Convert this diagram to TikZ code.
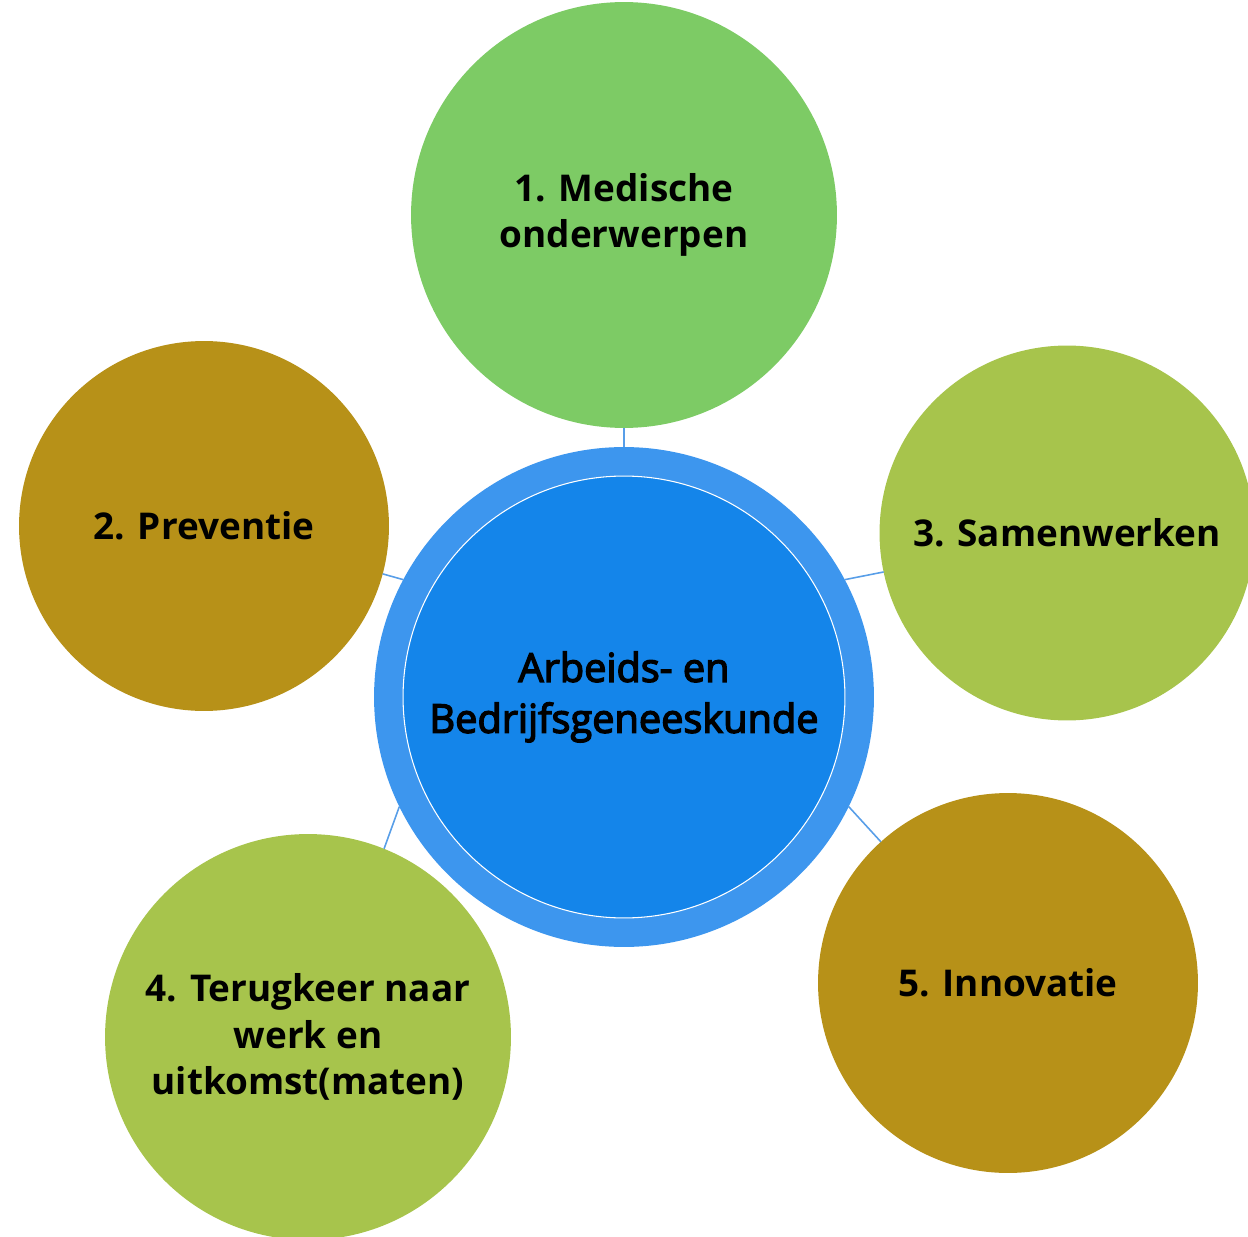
\documentclass[tikz,border=0pt]{standalone}
\usepackage{fontspec}
\setmainfont{Open Sans}
\newfontfamily\corefont{Open Sans}[FakeBold=3.5]
\usepackage{tikz}
\definecolor{leafgreen}{RGB}{125,203,101}
\definecolor{limegreen}{RGB}{167,196,76}
\definecolor{ochre}{RGB}{183,145,24}
\definecolor{ringblue}{RGB}{61,150,238}
\definecolor{coreblue}{RGB}{20,133,234}
\definecolor{linkblue}{RGB}{88,158,232}
\tikzset{
  bubble/.style={circle, inner sep=0pt, outer sep=0pt, align=center,
    font=\bfseries\fontsize{21}{26.5}\selectfont},
  link/.style={draw=linkblue, line width=0.9pt}
}

\begin{document}
\begin{tikzpicture}[x=0.02cm, y=-0.02cm]
\useasboundingbox (0,0) rectangle (1248,1237);
% centre
\node[circle, fill=ringblue, minimum size=10cm, outer sep=0pt] (ring) at (624,697) {};
\node[circle, fill=coreblue, draw=white, line width=0.6pt, minimum size=8.84cm,
  align=center, font=\corefont\fontsize{22.6}{29}\selectfont] (core) at (624,697)
  {Arbeids- en\\ Bedrijfsgeneeskunde};
% outer circles
\node[bubble, fill=leafgreen, minimum size=8.52cm] (medisch) at (624,215) {1. Medische\\ onderwerpen};
\node[bubble, fill=ochre, minimum size=7.4cm] (preventie) at (204,526) {2. Preventie};
\node[bubble, fill=limegreen, minimum size=7.5cm] (samen) at (1067,533) {3. Samenwerken};
\node[bubble, fill=limegreen, minimum size=8.12cm] (terugkeer) at (308,1037) {4. Terugkeer naar\\ werk en\\ uitkomst(maten)};
\node[bubble, fill=ochre, minimum size=7.6cm] (innovatie) at (1008,983) {5. Innovatie};
% connectors
\draw[link] (ring.90) -- (medisch.-90);
\draw[link] (ring.152) -- (preventie.-15);
\draw[link] (ring.28) -- (samen.192);
\draw[link] (ring.206) -- (terugkeer.68);
\draw[link] (ring.-26) -- (innovatie.132);
\end{tikzpicture}
\end{document}
